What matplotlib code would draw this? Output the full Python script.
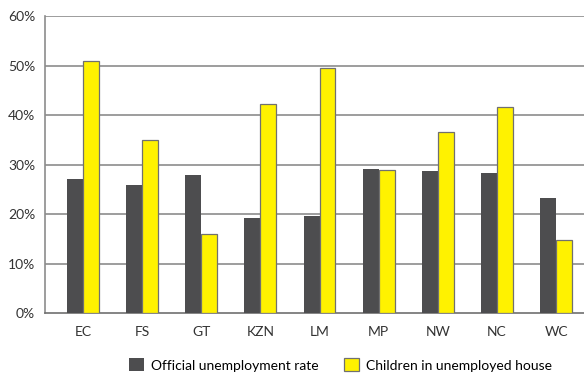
import matplotlib
matplotlib.use("Agg")
import matplotlib.pyplot as plt
import numpy as np
from matplotlib.patches import Patch

plt.rcParams['font.family'] = ['Lato', 'DejaVu Sans']

provinces = ["EC", "FS", "GT", "KZN", "LM", "MP", "NW", "NC", "WC"]
official_rate = [27.1, 25.9, 27.9, 19.3, 19.7, 29.2, 28.8, 28.4, 23.3]
children_unemployed = [51.0, 34.9, 16.0, 42.3, 49.6, 29.0, 36.5, 41.6, 14.7]
yticks = [0, 10, 20, 30, 40, 50, 60]
series_names = ["Official unemployment rate", "Children in unemployed house"]

dark = "#4d4d4f"
yellow = "#fff200"

fig = plt.figure(figsize=(5.84, 3.75), dpi=100)
ax = fig.add_axes([0.077, 0.165, 0.923, 0.792])

x = np.arange(len(provinces))
w = 0.27
ax.bar(x - w / 2, official_rate, width=w, color=dark, edgecolor="none", zorder=3)
ax.bar(x + w / 2, children_unemployed, width=w, color=yellow,
       edgecolor="#707070", linewidth=0.9, zorder=3)

ax.set_xlim(-0.64, len(provinces) - 0.53)
ax.set_ylim(0, 60)
ax.set_yticks(yticks)
ax.set_yticklabels([f"{v}%" for v in yticks])
ax.set_xticks(x)
ax.set_xticklabels(provinces)
ax.tick_params(length=0, labelsize=10, colors="#333333")
ax.tick_params(axis="x", pad=9)
ax.tick_params(axis="y", pad=7)

for v in yticks[1:]:
    ax.axhline(v, color="#8c8c8c", linewidth=1.2, zorder=1)

for side in ["top", "right"]:
    ax.spines[side].set_visible(False)
ax.spines["left"].set_color("#8c8c8c")
ax.spines["left"].set_linewidth(1.2)
ax.spines["bottom"].set_color("#707070")
ax.spines["bottom"].set_linewidth(1.2)

handles = [Patch(facecolor=dark, edgecolor="none"),
           Patch(facecolor=yellow, edgecolor="#707070", linewidth=0.9)]
fig.legend(handles, series_names, loc="lower center", bbox_to_anchor=(0.583, -0.024),
           ncol=2, frameon=False, fontsize=10, handlelength=1.1, handleheight=1.1,
           columnspacing=1.8, handletextpad=0.5)

fig.savefig("out.png", dpi=100)
